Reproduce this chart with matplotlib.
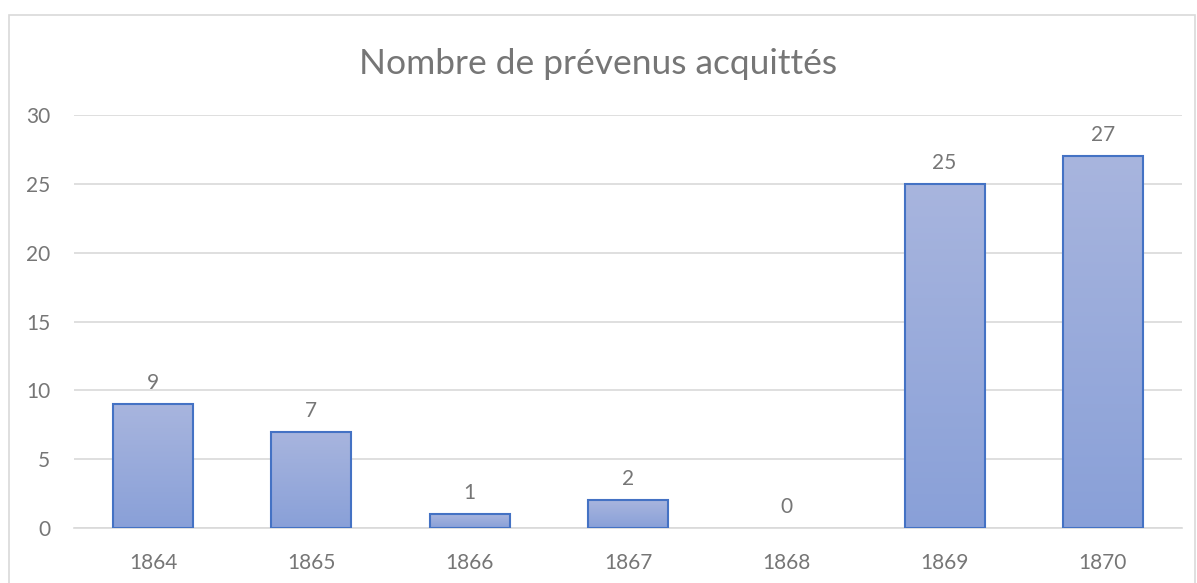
import numpy as np
import matplotlib.pyplot as plt
from matplotlib.patches import Rectangle

years = ['1864', '1865', '1866', '1867', '1868', '1869', '1870']
acquittes = [9, 7, 1, 2, 0, 25, 27]
y_ticks = [0, 5, 10, 15, 20, 25, 30]

plt.rcParams['font.family'] = ['Lato', 'DejaVu Sans']
grey_txt = '#767676'
grid_col = '#d9d9d9'

fig = plt.figure(figsize=(11.97, 5.83), dpi=100)
ax = fig.add_axes([0.0618, 0.0943, 0.9257, 0.7084])

# outer chart frame like Excel
fig.patches.append(Rectangle((9 / 1197, -0.05), (1195 - 9) / 1197, 1.05 - 15 / 583,
                             transform=fig.transFigure, fill=False,
                             edgecolor=grid_col, linewidth=1.2))

x = np.arange(len(years))
bars = ax.bar(x, acquittes, width=0.505, color='none', edgecolor='#4472c4',
              linewidth=1.5, zorder=3)

# vertical gradient inside each bar
grad = np.linspace(0, 1, 256).reshape(-1, 1)
top = np.array([168, 181, 222]) / 255
bot = np.array([137, 160, 216]) / 255
img = top + (bot - top) * grad[:, :, None]
for b in bars:
    h = b.get_height()
    if h == 0:
        b.set_visible(False)
        continue
    im = ax.imshow(img, extent=(b.get_x(), b.get_x() + b.get_width(), 0, h),
                   aspect='auto', origin='upper', zorder=2)
    im.set_clip_path(b)

for xi, v in zip(x, acquittes):
    ax.annotate(str(v), (xi, v), xytext=(0, 8), textcoords='offset points',
                ha='center', va='bottom', fontsize=15, color=grey_txt)

ax.set_xlim(-0.5, len(years) - 0.5)
ax.set_ylim(0, 30)
ax.set_yticks(y_ticks)
ax.set_xticks(x)
ax.set_xticklabels(years)
ax.tick_params(axis='both', length=0, labelsize=15, labelcolor=grey_txt)
ax.tick_params(axis='x', pad=18)
ax.tick_params(axis='y', pad=17)
ax.grid(axis='y', color=grid_col, linewidth=1.2, zorder=0)
ax.set_axisbelow(True)
for s in ['top', 'right', 'left']:
    ax.spines[s].set_visible(False)
ax.spines['bottom'].set_color(grid_col)
ax.spines['bottom'].set_linewidth(1.2)

fig.text(0.5, 1 - 64 / 583, 'Nombre de prévenus acquittés', ha='center', va='center',
         fontsize=25.5, color=grey_txt)

fig.savefig('out.png', dpi=100)
